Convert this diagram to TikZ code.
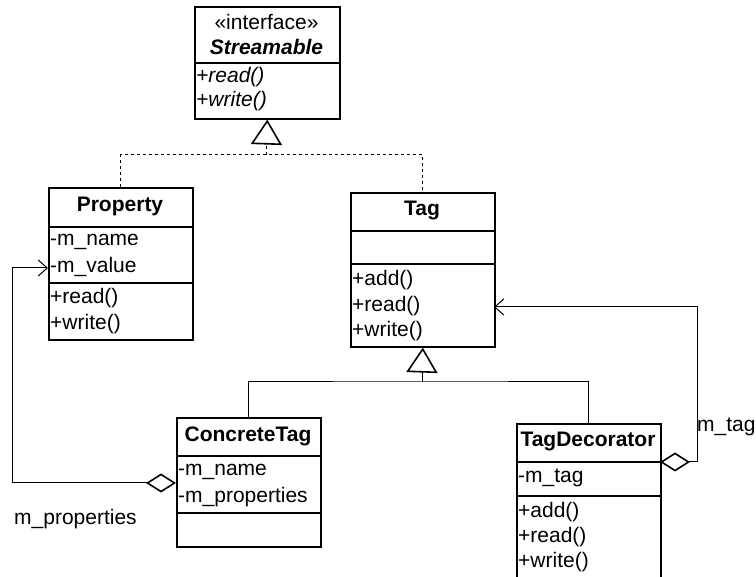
\documentclass[tikz,border=0pt]{standalone}
\usepackage{fontspec}
\setmainfont{Liberation Sans}
\usetikzlibrary{arrows.meta}
\tikzset{
  classbox/.style={draw, line width=1.6pt, minimum width=144pt, inner sep=0pt, anchor=north west},
  sep/.style={line width=1.6pt},
  member/.style={anchor=west, inner sep=0pt, font=\fontsize{21}{25}\selectfont},
  title/.style={inner sep=0pt, font=\fontsize{21}{25}\selectfont\bfseries},
  conn/.style={line width=1pt},
  realize/.style={line width=1pt, dash pattern=on 3pt off 3pt},
  inherit/.style={line width=1pt, -{Triangle[open, length=25pt, width=31pt, line width=1.6pt]}},
  navig/.style={line width=1pt, {Diamond[open, length=30pt, width=19pt, line width=1.6pt]}-{Straight Barb[length=9pt, width=16pt, line width=1pt]}},
  lbl/.style={inner sep=0pt, font=\fontsize{21}{25}\selectfont}
}
\begin{document}
\begin{tikzpicture}[x=1pt, y=-1pt]
\useasboundingbox (0,0) rectangle (756,577);
\clip (0,0) rectangle (756,577);

% interface Streamable
\node[classbox, minimum width=145pt, minimum height=112pt] (strm) at (194,6) {};
\draw[sep] (194,63) -- (339,63);
\node[lbl] (strmst) at (266.5,22) {«interface»};
\node[title, font=\fontsize{21}{25}\selectfont\bfseries\itshape] (strmt) at (266.5,47) {Streamable};
\node[member, font=\fontsize{21}{25}\selectfont\itshape] (strm1) at (196,77) {+read()};
\node[member, font=\fontsize{21}{25}\selectfont\itshape] (strm2) at (196,101) {+write()};

% class Property
\node[classbox, minimum height=152pt] (prop) at (48,187) {};
\draw[sep] (48,227) -- (192,227);
\draw[sep] (48,283) -- (192,283);
\node[title] (propt) at (120,206) {Property};
\node[member] (prop1) at (50,242) {-m\_name};
\node[member] (prop2) at (50,267) {-m\_value};
\node[member] (prop3) at (50,298) {+read()};
\node[member] (prop4) at (50,324) {+write()};

% class Tag
\node[classbox, minimum height=154pt] (tag) at (350,192) {};
\draw[sep] (350,231) -- (494,231);
\draw[sep] (350,264) -- (494,264);
\node[title] (tagt) at (422,211) {Tag};
\node[member] (tag1) at (352,280) {+add()};
\node[member] (tag2) at (352,306) {+read()};
\node[member] (tag3) at (352,331) {+write()};

% class ConcreteTag
\node[classbox, minimum height=129pt] (ctag) at (176,417) {};
\draw[sep] (176,456) -- (320,456);
\draw[sep] (176,513) -- (320,513);
\node[title] (ctagt) at (248,436) {ConcreteTag};
\node[member] (ctag1) at (178,472) {-m\_name};
\node[member] (ctag2) at (178,497) {-m\_properties};

% class TagDecorator (runs past the lower edge)
\node[classbox, minimum height=200pt] (tdec) at (516,423) {};
\draw[sep] (516,462) -- (660,462);
\draw[sep] (516,496) -- (660,496);
\node[title] (tdect) at (588,442) {TagDecorator};
\node[member] (tdec1) at (518,478) {-m\_tag};
\node[member] (tdec2) at (518,512) {+add()};
\node[member] (tdec3) at (518,537) {+read()};
\node[member] (tdec4) at (518,562) {+write()};

% realization of Streamable
\coordinate (rj) at (266.5,155);
\coordinate (rt) at (266.5,143);
\draw[realize] (prop.north) |- (rj) -| (tag.north);
\draw[realize] (rj) -- (rt);
\draw[inherit] (rt) -- (strm.south);

% generalization of Tag
\coordinate (gj) at (422,382);
\coordinate (gt) at (422,371);
\draw[conn] (ctag.north) |- (gj) -| (tdec.north);
\draw[conn] (gj) -- (gt);
\draw[inherit] (gt) -- (tag.south);

% aggregation ConcreteTag -> Property
\coordinate (ca) at (176,483);
\coordinate (cb) at (12,483);
\coordinate (pin) at (48,268);
\draw[navig] (ca) -- (cb) |- (pin);
\node[lbl, anchor=west] (mprops) at (14,519) {m\_properties};

% aggregation TagDecorator -> Tag
\coordinate (da) at (660,462);
\coordinate (db) at (697,462);
\coordinate (tin) at (494,307);
\draw[navig] (da) -- (db) |- (tin);
\node[lbl, anchor=west] (mtag) at (697,427) {m\_tag};
\end{tikzpicture}
\end{document}
